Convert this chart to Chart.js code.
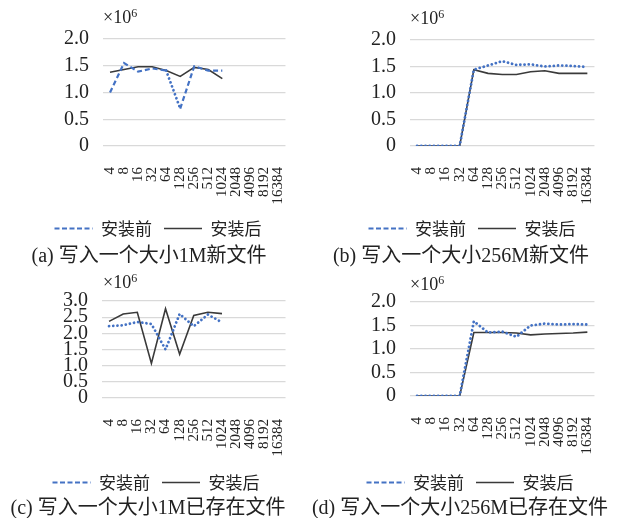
<!DOCTYPE html>
<html>
<head>
<meta charset="utf-8">
<script src="https://cdn.jsdelivr.net/npm/chart.js@4/dist/chart.umd.min.js"></script>
<style>
  html, body { margin: 0; padding: 0; background: #fff; }
  body { width: 619px; height: 518px; position: relative; overflow: hidden;
         font-family: "Liberation Serif", "Noto Sans CJK SC", serif; color: #222; }
  .panel { position: absolute; }
  .unit { position: absolute; font-size: 18px; line-height: 18px; color: #222; }
  .unit sup { font-size: 12px; vertical-align: 6px; line-height: 0; }
  .cap { position: absolute; font-size: 20px; line-height: 22px; white-space: nowrap;
         transform: translateX(-50%); color: #222; }
</style>
</head>
<body>
<div class="panel" id="pa" style="left:0;top:0;width:310px;height:247px"><canvas id="ca"></canvas></div>
<div class="panel" id="pb" style="left:310px;top:0;width:309px;height:247px"><canvas id="cb"></canvas></div>
<div class="panel" id="pc" style="left:0;top:250px;width:310px;height:251px"><canvas id="cc"></canvas></div>
<div class="panel" id="pd" style="left:310px;top:250px;width:309px;height:251px"><canvas id="cd"></canvas></div>

<div class="unit" style="left:103px;top:8px">×10<sup>6</sup></div>
<div class="unit" style="left:410px;top:9px">×10<sup>6</sup></div>
<div class="unit" style="left:103px;top:273px">×10<sup>6</sup></div>
<div class="unit" style="left:410px;top:275px">×10<sup>6</sup></div>

<div class="cap" style="left:149px;top:244px">(a) 写入一个大小1M新文件</div>
<div class="cap" style="left:461px;top:244px">(b) 写入一个大小256M新文件</div>
<div class="cap" style="left:148px;top:496px">(c) 写入一个大小1M已存在文件</div>
<div class="cap" style="left:460px;top:496px">(d) 写入一个大小256M已存在文件</div>

<script>
// ---- data (values in units of 10^6) ----
const categories = ['4','8','16','32','64','128','256','512','1024','2048','4096','8192','16384'];
const seriesNames = ['安装前', '安装后'];

const beforeA = [1.00, 1.55, 1.39, 1.45, 1.41, 0.70, 1.49, 1.41, 1.41, null, null, null, null];
const afterA  = [1.38, 1.43, 1.48, 1.48, 1.41, 1.30, 1.47, 1.43, 1.26, null, null, null, null];

const beforeB = [0, 0, 0, 0, 1.44, 1.52, 1.60, 1.53, 1.54, 1.50, 1.52, 1.51, 1.49];
const afterB  = [0, 0, 0, 0, 1.44, 1.37, 1.35, 1.35, 1.40, 1.42, 1.37, 1.37, 1.37];

const beforeC = [2.22, 2.25, 2.35, 2.29, 1.50, 2.60, 2.22, 2.58, 2.34, null, null, null, null];
const afterC  = [2.37, 2.60, 2.65, 1.07, 2.76, 1.35, 2.55, 2.65, 2.61, null, null, null, null];

const beforeD = [0, 0, 0, 0, 1.59, 1.35, 1.37, 1.26, 1.50, 1.54, 1.52, 1.53, 1.52];
const afterD  = [0, 0, 0, 0, 1.35, 1.35, 1.35, 1.34, 1.30, 1.32, 1.33, 1.34, 1.36];

const yMaxA = 2.0, yMaxB = 2.0, yMaxC = 3.0, yMaxD = 2.0;
const yStep = 0.5;

// ---- styles ----
const BLUE = '#4472C4';
const BLACK = '#3a3a3a';
const GRID = '#d9d9d9';
const SERIF = "'Liberation Serif', 'Noto Sans CJK SC', serif";
const LEGEND_FONT = "'Noto Sans CJK SC', 'Liberation Serif', sans-serif";

function legendLabels(chart) {
  const items = Chart.defaults.plugins.legend.labels.generateLabels(chart);
  return items.map(item => {
    const ds = chart.data.datasets[item.datasetIndex];
    return Object.assign(item, {
      lineDash: ds.borderDash || [],
      lineWidth: ds.borderWidth,
      strokeStyle: ds.borderColor,
      fillStyle: ds.borderColor,
      lineCap: 'butt'
    });
  });
}

function makeChart(id, before, after, yMax, cfg) {
  const dotted = cfg.dotted;
  return new Chart(document.getElementById(id), {
    type: 'line',
    data: {
      labels: categories,
      datasets: [
        {
          label: seriesNames[0],
          data: before,
          borderColor: BLUE,
          backgroundColor: BLUE,
          borderWidth: 2.2,
          borderDash: [5, 2.5],
          borderCapStyle: 'butt',
          pointRadius: 0,
          tension: 0,
          segment: {
            borderDash: ctx => dotted(ctx) ? [0.01, 4.2] : [5, 3],
            borderCapStyle: ctx => dotted(ctx) ? 'round' : 'butt',
            borderWidth: ctx => dotted(ctx) ? 2.8 : 2.2
          }
        },
        {
          label: seriesNames[1],
          data: after,
          borderColor: BLACK,
          backgroundColor: BLACK,
          borderWidth: 1.6,
          pointRadius: 0,
          tension: 0
        }
      ]
    },
    options: {
      responsive: true,
      maintainAspectRatio: false,
      animation: false,
      events: [],
      layout: { padding: { top: cfg.top, left: cfg.left, right: cfg.right, bottom: 0 } },
      plugins: {
        tooltip: { enabled: false },
        legend: {
          position: 'bottom',
          labels: {
            usePointStyle: true,
            pointStyle: 'line',
            pointStyleWidth: 38,
            boxHeight: 2,
            padding: 12,
            color: '#222',
            font: { family: LEGEND_FONT, size: 17 },
            generateLabels: legendLabels
          }
        }
      },
      scales: {
        x: {
          offset: true,
          grid: { display: false },
          border: { display: false },
          afterFit: s => { s.height = cfg.xh; },
          ticks: {
            autoSkip: false,
            minRotation: 90,
            maxRotation: 90,
            padding: 13,
            color: '#222',
            font: { family: SERIF, size: 15 }
          }
        },
        y: {
          min: 0,
          max: yMax,
          grid: { color: GRID, lineWidth: 1.2, drawTicks: false },
          border: { display: false },
          afterFit: s => { s.width = cfg.yw; },
          ticks: {
            stepSize: yStep,
            autoSkip: false,
            padding: 14,
            color: '#222',
            font: { family: SERIF, size: 20 },
            callback: v => v === 0 ? '0' : v.toFixed(1)
          }
        }
      }
    }
  });
}

const always = () => true;

makeChart('ca', beforeA, afterA, yMaxA, { top: 39, left: 20, right: 14, yw: 83, xh: 62,
  dotted: ctx => ctx.p0DataIndex === 4 });
makeChart('cb', beforeB, afterB, yMaxB, { top: 40, left: 32, right: 17, yw: 68, xh: 62,
  dotted: always });
makeChart('cc', beforeC, afterC, yMaxC, { top: 51, left: 16, right: 14, yw: 86, xh: 64,
  dotted: always });
makeChart('cd', beforeD, afterD, yMaxD, { top: 52, left: 28, right: 17, yw: 72, xh: 66,
  dotted: always });
</script>
</body>
</html>
